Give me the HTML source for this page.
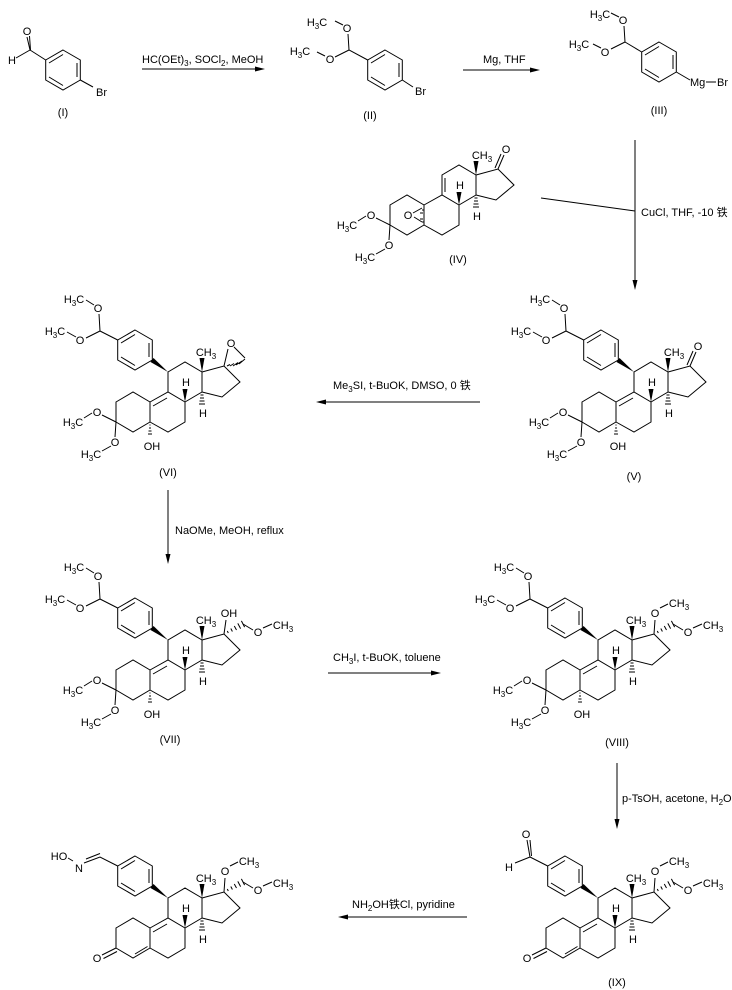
<!DOCTYPE html>
<html><head><meta charset="utf-8"><style>
html,body{margin:0;padding:0;background:#fff;}
svg{display:block;}
text{font-family:"Liberation Sans","Noto Sans CJK SC",sans-serif;font-size:11px;fill:#000;}
.s{font-size:8px;}
</style></head><body>
<svg width="732" height="990" viewBox="0 0 732 990" xmlns="http://www.w3.org/2000/svg">
<defs>
<g id="core" stroke="#000" stroke-width="1" fill="none">
<path d="M116,402 L133,392 L150,402 L150,422 L133,432 L116,422 Z"/>
<path d="M150,402 L168,392 L185,402 L185,422 L168,432 L150,422"/>
<path d="M168,392 L168,372 L185,362 L202,372 L202,392 L185,402"/>
<path d="M202,372 L224,366 L240,382 L222,397 L202,392"/>
<polygon points="185,402 182.5,389 187.5,389" fill="#000" stroke="none"/>
<polygon points="202,372 199.5,358 204.5,358" fill="#000" stroke="none"/>
<path d="M200.5,395 h3 M200,398 h4 M199.5,401 h5 M199,404 h6"/>
</g>
<g id="d910" stroke="#000" fill="none"><path d="M153,406 L167,398"/></g>
<g id="arylwedge"><polygon points="168,372 153.5,358 150.5,362" fill="#000"/></g>
<g id="aryl" stroke="#000" fill="none">
<path d="M135,330 L152.3,340 L152.3,360 L135,370 L117.7,360 L117.7,340 Z"/>
<path d="M121,343 L135,334.5 M149,343 L149,357 M121,357 L135,365.5"/>
</g>
<g id="acetal" stroke="#000" fill="none">
<path d="M117.7,340 L100,331 L99,314 M94,305 L86,300 M100,331 L86,338 M76,337 L67,332"/>
</g>
<g id="c3ome" stroke="#000" fill="none">
<path d="M116,422 L102,415 M92,413 L84,418 M116,422 L115,437 M111,446 L102,451"/>
</g>
<g id="oh5" stroke="#000" fill="none">
<path d="M149.5,425 h1 M149,428 h2 M148.5,431 h3 M148,434 h4"/>
</g>
<g id="side17" stroke="#000" fill="none">
<path d="M227.3,363 L228.3,365 M230.8,360.5 L232.4,363.5 M234.3,358 L236.5,362 M237.8,355.4 L240.6,360.6 M241.4,352.9 L244.6,359.1"/>
<path d="M243,356 L253,362 M263,360 L272,356"/>
</g>
<g id="enone" stroke="#000" fill="none">
<path d="M116,422 L102,429 M117,425.5 L103.5,432.5 M135,428 L147.5,420.5"/>
</g>
</defs>

<!-- ===== Top row ===== -->
<g stroke="#000" fill="none">
<path d="M63,50 L80.3,60 L80.3,80 L63,90 L45.7,80 L45.7,60 Z"/>
<path d="M49,63 L63,54.5 M77,63 L77,77 M49,77 L63,85.5"/>
<path d="M45.7,60 L30,50 L27,37 M30.5,50 L29.5,36 M30,50 L16,58 M80.3,80 L93,87"/>
</g>
<text x="27" y="35" text-anchor="middle">O</text>
<text x="12" y="64" text-anchor="middle">H</text>
<text x="96" y="96">Br</text>
<text x="63" y="116" text-anchor="middle">(I)</text>

<line x1="142" y1="69" x2="262" y2="69" stroke="#000"/>
<polygon points="265,69 255,66.5 255,71.5" fill="#000"/>
<text x="142" y="63">HC(OEt)<tspan class="s" dy="3">3</tspan><tspan dy="-3">, SOCl</tspan><tspan class="s" dy="3">2</tspan><tspan dy="-3">, MeOH</tspan></text>

<g stroke="#000" fill="none">
<path d="M385,50 L402.3,60 L402.3,80 L385,90 L367.7,80 L367.7,60 Z"/>
<path d="M371,63 L385,54.5 M399,63 L399,77 M371,77 L385,85.5"/>
<path d="M367.7,60 L349,50 L348,34 M343,25 L335,21 M349,50 L335,57 M325,56 L317,52 M402.3,80 L413,87"/>
</g>
<text x="347" y="32" text-anchor="middle">O</text>
<text x="317" y="26" text-anchor="middle">H<tspan class="s" dy="3">3</tspan><tspan dy="-3">C</tspan></text>
<text x="330" y="63" text-anchor="middle">O</text>
<text x="300" y="55" text-anchor="middle">H<tspan class="s" dy="3">3</tspan><tspan dy="-3">C</tspan></text>
<text x="415" y="95">Br</text>
<text x="370" y="119" text-anchor="middle">(II)</text>

<line x1="463" y1="70" x2="537" y2="70" stroke="#000"/>
<polygon points="540,70 530,67.5 530,72.5" fill="#000"/>
<text x="483" y="63">Mg, THF</text>

<g stroke="#000" fill="none">
<path d="M659,42 L676.3,52 L676.3,72 L659,82 L641.7,72 L641.7,52 Z"/>
<path d="M645,55 L659,46.5 M673,55 L673,69 M645,69 L659,77.5"/>
<path d="M641.7,52 L625,42 L624,26 M619,17 L611,13 M625,42 L611,49 M601,48 L593,44 M676.3,72 L690,80 M706,82 L716,82"/>
</g>
<text x="623" y="24" text-anchor="middle">O</text>
<text x="600" y="18" text-anchor="middle">H<tspan class="s" dy="3">3</tspan><tspan dy="-3">C</tspan></text>
<text x="605" y="56" text-anchor="middle">O</text>
<text x="579" y="48" text-anchor="middle">H<tspan class="s" dy="3">3</tspan><tspan dy="-3">C</tspan></text>
<text x="690" y="86">Mg</text>
<text x="717" y="86">Br</text>
<text x="659" y="114" text-anchor="middle">(III)</text>

<line x1="635" y1="140" x2="635" y2="286" stroke="#000"/>
<polygon points="635,290 632.5,280 637.5,280" fill="#000"/>
<line x1="541" y1="198" x2="635" y2="211" stroke="#000"/>
<text x="641" y="216">CuCl, THF, -10 铁</text>

<!-- IV -->
<g transform="translate(274,-197)">
<use href="#core"/>
<use href="#c3ome"/>
<g stroke="#000" fill="none">
<path d="M171,389 L171,375 M224,366 L230,352 M221,365 L227,351"/>
<path d="M139,410 L148,405 M140,414 L148,419"/>
<path d="M148,407 h2 M146,410 h3 M146,416 h3 M148,419 h2"/>
</g>
<text x="134" y="416" text-anchor="middle">O</text>
<text x="232" y="350" text-anchor="middle">O</text>
<text x="208" y="356" text-anchor="middle">CH<tspan class="s" dy="3">3</tspan></text>
<text x="186" y="386" text-anchor="middle">H</text>
<text x="203" y="417" text-anchor="middle">H</text>
<text x="97" y="416" text-anchor="middle">O</text>
<text x="73" y="426" text-anchor="middle">H<tspan class="s" dy="3">3</tspan><tspan dy="-3">C</tspan></text>
<text x="115" y="446" text-anchor="middle">O</text>
<text x="91" y="458" text-anchor="middle">H<tspan class="s" dy="3">3</tspan><tspan dy="-3">C</tspan></text>
</g>
<text x="458" y="263" text-anchor="middle">(IV)</text>

<!-- V -->
<g transform="translate(466,0)">
<use href="#core"/><use href="#d910"/><use href="#arylwedge"/><use href="#aryl"/><use href="#acetal"/><use href="#c3ome"/><use href="#oh5"/>
<g stroke="#000" fill="none"><path d="M224,366 L230,352 M221,365 L227,351"/></g>
<text x="232" y="350" text-anchor="middle">O</text>
<text x="208" y="356" text-anchor="middle">CH<tspan class="s" dy="3">3</tspan></text>
<text x="186" y="386" text-anchor="middle">H</text>
<text x="203" y="417" text-anchor="middle">H</text>
<text x="152" y="450" text-anchor="middle">OH</text>
<text x="98" y="312" text-anchor="middle">O</text>
<text x="74" y="303" text-anchor="middle">H<tspan class="s" dy="3">3</tspan><tspan dy="-3">C</tspan></text>
<text x="80" y="344" text-anchor="middle">O</text>
<text x="55" y="335" text-anchor="middle">H<tspan class="s" dy="3">3</tspan><tspan dy="-3">C</tspan></text>
<text x="97" y="416" text-anchor="middle">O</text>
<text x="73" y="426" text-anchor="middle">H<tspan class="s" dy="3">3</tspan><tspan dy="-3">C</tspan></text>
<text x="115" y="446" text-anchor="middle">O</text>
<text x="91" y="458" text-anchor="middle">H<tspan class="s" dy="3">3</tspan><tspan dy="-3">C</tspan></text>
</g>
<text x="634" y="480" text-anchor="middle">(V)</text>

<line x1="321" y1="402" x2="480" y2="402" stroke="#000"/>
<polygon points="316,402 326,399.5 326,404.5" fill="#000"/>
<text x="333" y="389">Me<tspan class="s" dy="3">3</tspan><tspan dy="-3">SI, t-BuOK, DMSO, 0 铁</tspan></text>

<!-- VI -->
<g>
<use href="#core"/><use href="#d910"/><use href="#arylwedge"/><use href="#aryl"/><use href="#acetal"/><use href="#c3ome"/><use href="#oh5"/>
<g stroke="#000" fill="none"><path d="M224,366 L228,349 M234,347 L245,358 M227,366 l3,-1.5 M230,366 l4,-2.5 M233,366 l5,-3.5 M236,365 l6,-4 M239,364 l6,-5"/></g>
<text x="231" y="347" text-anchor="middle">O</text>
<text x="206" y="356" text-anchor="middle">CH<tspan class="s" dy="3">3</tspan></text>
<text x="186" y="386" text-anchor="middle">H</text>
<text x="203" y="417" text-anchor="middle">H</text>
<text x="152" y="450" text-anchor="middle">OH</text>
<text x="98" y="312" text-anchor="middle">O</text>
<text x="74" y="303" text-anchor="middle">H<tspan class="s" dy="3">3</tspan><tspan dy="-3">C</tspan></text>
<text x="80" y="344" text-anchor="middle">O</text>
<text x="55" y="335" text-anchor="middle">H<tspan class="s" dy="3">3</tspan><tspan dy="-3">C</tspan></text>
<text x="97" y="416" text-anchor="middle">O</text>
<text x="73" y="426" text-anchor="middle">H<tspan class="s" dy="3">3</tspan><tspan dy="-3">C</tspan></text>
<text x="115" y="446" text-anchor="middle">O</text>
<text x="91" y="458" text-anchor="middle">H<tspan class="s" dy="3">3</tspan><tspan dy="-3">C</tspan></text>
</g>
<text x="168" y="476" text-anchor="middle">(VI)</text>

<line x1="168" y1="490" x2="168" y2="560" stroke="#000"/>
<polygon points="168,564 165.5,554 170.5,554" fill="#000"/>
<text x="175" y="534">NaOMe, MeOH, reflux</text>

<!-- VII -->
<g transform="translate(0,268)">
<use href="#core"/><use href="#d910"/><use href="#arylwedge"/><use href="#aryl"/><use href="#acetal"/><use href="#c3ome"/><use href="#oh5"/><use href="#side17"/>
<g stroke="#000" fill="none"><path d="M224,366 L226,352"/></g>
<text x="229" y="349" text-anchor="middle">OH</text>
<text x="258" y="368" text-anchor="middle">O</text>
<text x="283" y="361" text-anchor="middle">CH<tspan class="s" dy="3">3</tspan></text>
<text x="206" y="356" text-anchor="middle">CH<tspan class="s" dy="3">3</tspan></text>
<text x="186" y="386" text-anchor="middle">H</text>
<text x="203" y="417" text-anchor="middle">H</text>
<text x="152" y="450" text-anchor="middle">OH</text>
<text x="98" y="312" text-anchor="middle">O</text>
<text x="74" y="303" text-anchor="middle">H<tspan class="s" dy="3">3</tspan><tspan dy="-3">C</tspan></text>
<text x="80" y="344" text-anchor="middle">O</text>
<text x="55" y="335" text-anchor="middle">H<tspan class="s" dy="3">3</tspan><tspan dy="-3">C</tspan></text>
<text x="97" y="416" text-anchor="middle">O</text>
<text x="73" y="426" text-anchor="middle">H<tspan class="s" dy="3">3</tspan><tspan dy="-3">C</tspan></text>
<text x="115" y="446" text-anchor="middle">O</text>
<text x="91" y="458" text-anchor="middle">H<tspan class="s" dy="3">3</tspan><tspan dy="-3">C</tspan></text>
</g>
<text x="170" y="743" text-anchor="middle">(VII)</text>

<line x1="328" y1="673" x2="437" y2="673" stroke="#000"/>
<polygon points="441,673 431,670.5 431,675.5" fill="#000"/>
<text x="333" y="661">CH<tspan class="s" dy="3">3</tspan><tspan dy="-3">I, t-BuOK, toluene</tspan></text>

<!-- VIII -->
<g transform="translate(430,268)">
<use href="#core"/><use href="#d910"/><use href="#arylwedge"/><use href="#aryl"/><use href="#acetal"/><use href="#c3ome"/><use href="#oh5"/><use href="#side17"/>
<g stroke="#000" fill="none"><path d="M224,366 L225,352 M230,340 L238,336"/></g>
<text x="225" y="349" text-anchor="middle">O</text>
<text x="249" y="339" text-anchor="middle">CH<tspan class="s" dy="3">3</tspan></text>
<text x="258" y="368" text-anchor="middle">O</text>
<text x="283" y="361" text-anchor="middle">CH<tspan class="s" dy="3">3</tspan></text>
<text x="206" y="356" text-anchor="middle">CH<tspan class="s" dy="3">3</tspan></text>
<text x="186" y="386" text-anchor="middle">H</text>
<text x="203" y="417" text-anchor="middle">H</text>
<text x="152" y="450" text-anchor="middle">OH</text>
<text x="98" y="312" text-anchor="middle">O</text>
<text x="74" y="303" text-anchor="middle">H<tspan class="s" dy="3">3</tspan><tspan dy="-3">C</tspan></text>
<text x="80" y="344" text-anchor="middle">O</text>
<text x="55" y="335" text-anchor="middle">H<tspan class="s" dy="3">3</tspan><tspan dy="-3">C</tspan></text>
<text x="97" y="416" text-anchor="middle">O</text>
<text x="73" y="426" text-anchor="middle">H<tspan class="s" dy="3">3</tspan><tspan dy="-3">C</tspan></text>
<text x="115" y="446" text-anchor="middle">O</text>
<text x="91" y="458" text-anchor="middle">H<tspan class="s" dy="3">3</tspan><tspan dy="-3">C</tspan></text>
</g>
<text x="617" y="746" text-anchor="middle">(VIII)</text>

<line x1="617" y1="763" x2="617" y2="825" stroke="#000"/>
<polygon points="617,829 614.5,819 619.5,819" fill="#000"/>
<text x="622" y="802">p-TsOH, acetone, H<tspan class="s" dy="3">2</tspan><tspan dy="-3">O</tspan></text>

<!-- IX -->
<g transform="translate(430,526)">
<use href="#core"/><use href="#d910"/><use href="#arylwedge"/><use href="#aryl"/><use href="#enone"/><use href="#side17"/>
<g stroke="#000" fill="none"><path d="M224,366 L225,352 M230,340 L238,336 M117.7,340 L100,331 L97,314 M101.5,330 L100,314 M100,331 L85,337"/></g>
<text x="96" y="312" text-anchor="middle">O</text>
<text x="79" y="345" text-anchor="middle">H</text>
<text x="97" y="436" text-anchor="middle">O</text>
<text x="225" y="349" text-anchor="middle">O</text>
<text x="249" y="339" text-anchor="middle">CH<tspan class="s" dy="3">3</tspan></text>
<text x="258" y="368" text-anchor="middle">O</text>
<text x="283" y="361" text-anchor="middle">CH<tspan class="s" dy="3">3</tspan></text>
<text x="206" y="356" text-anchor="middle">CH<tspan class="s" dy="3">3</tspan></text>
<text x="186" y="386" text-anchor="middle">H</text>
<text x="203" y="417" text-anchor="middle">H</text>
</g>
<text x="617" y="986" text-anchor="middle">(IX)</text>

<line x1="343" y1="917" x2="467" y2="917" stroke="#000"/>
<polygon points="338,917 348,914.5 348,919.5" fill="#000"/>
<text x="352" y="908">NH<tspan class="s" dy="3">2</tspan><tspan dy="-3">OH</tspan>铁<tspan>Cl, pyridine</tspan></text>

<!-- X -->
<g transform="translate(0,526)">
<use href="#core"/><use href="#d910"/><use href="#arylwedge"/><use href="#aryl"/><use href="#enone"/><use href="#side17"/>
<g stroke="#000" fill="none"><path d="M224,366 L225,352 M230,340 L238,336 M117.7,340 L100,331 L84,337 M100,327.5 L86,333 M73,335 L68,332"/></g>
<text x="79" y="346" text-anchor="middle">N</text>
<text x="59" y="334" text-anchor="middle">HO</text>
<text x="97" y="436" text-anchor="middle">O</text>
<text x="225" y="349" text-anchor="middle">O</text>
<text x="249" y="339" text-anchor="middle">CH<tspan class="s" dy="3">3</tspan></text>
<text x="258" y="368" text-anchor="middle">O</text>
<text x="283" y="361" text-anchor="middle">CH<tspan class="s" dy="3">3</tspan></text>
<text x="206" y="356" text-anchor="middle">CH<tspan class="s" dy="3">3</tspan></text>
<text x="186" y="386" text-anchor="middle">H</text>
<text x="203" y="417" text-anchor="middle">H</text>
</g>
</svg>
</body></html>
